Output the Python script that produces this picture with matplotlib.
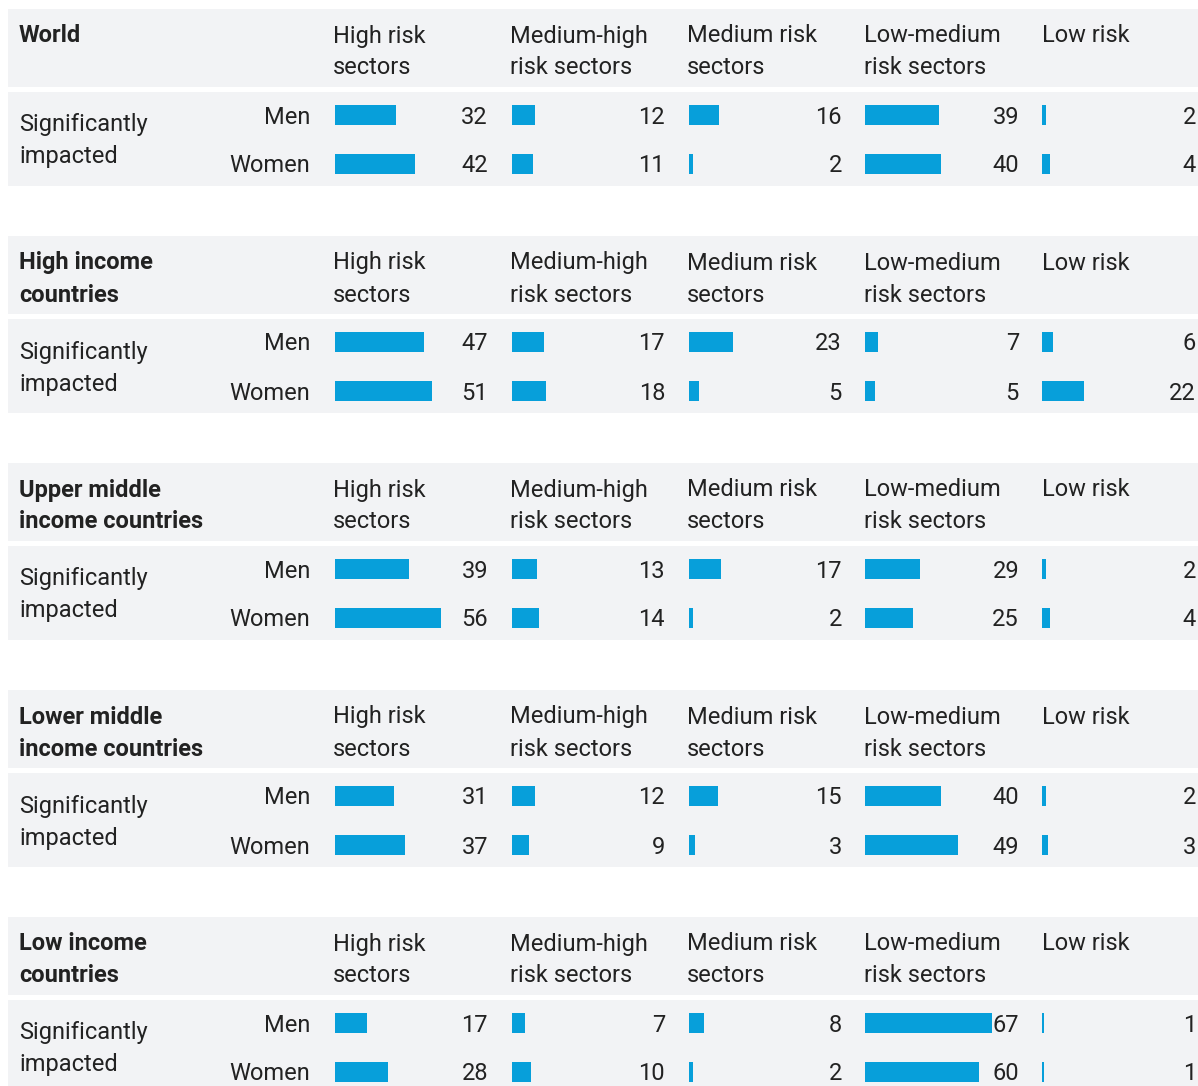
import matplotlib
matplotlib.use("Agg")
import matplotlib.pyplot as plt
from matplotlib.patches import Rectangle

plt.rcParams['font.family'] = ['Roboto', 'DejaVu Sans']

regions = ["World", "High income\ncountries", "Upper middle\nincome countries",
           "Lower middle\nincome countries", "Low income\ncountries"]
sectors = ["High risk\nsectors", "Medium-high\nrisk sectors", "Medium risk\nsectors",
           "Low-medium\nrisk sectors", "Low risk"]
row_label = "Significantly\nimpacted"
groups = ["Men", "Women"]

men = [
    [32, 12, 16, 39, 2],
    [47, 17, 23, 7, 6],
    [39, 13, 17, 29, 2],
    [31, 12, 15, 40, 2],
    [17, 7, 8, 67, 1],
]
women = [
    [42, 11, 2, 40, 4],
    [51, 18, 5, 5, 22],
    [56, 14, 2, 25, 4],
    [37, 9, 3, 49, 3],
    [28, 10, 2, 60, 1],
]

W, H = 1198, 1086
fig = plt.figure(figsize=(W / 100, H / 100), dpi=100)
ax = fig.add_axes([0, 0, 1, 1])
ax.set_xlim(0, W)
ax.set_ylim(H, 0)
ax.axis('off')

BG = '#f2f3f5'
BAR = '#079fda'
TXT = '#222222'
FS = 17

col_start = [335, 512, 689, 865, 1042]
col_num_right = [488, 665, 842, 1019, 1196]
col_head = [333, 510, 687, 864, 1042]
scale = 1.9
bar_h = 20
dy = 2

for i, reg in enumerate(regions):
    top = 9 + 227 * i
    ax.add_patch(Rectangle((8, top), W - 8, 78, color=BG, lw=0))
    ax.add_patch(Rectangle((8, top + 83), W - 8, 94, color=BG, lw=0))
    lines = reg.split("\n")
    for k, ln in enumerate(lines):
        ax.text(19, top + 25 + dy + 32 * k, ln, fontsize=FS, fontweight='bold',
                color=TXT, va='center', ha='left')
    for c, sec in enumerate(sectors):
        for k, ln in enumerate(sec.split("\n")):
            ax.text(col_head[c], top + 25 + dy + 32 * k, ln, fontsize=FS,
                    color=TXT, va='center', ha='left')
    for k, ln in enumerate(row_label.split("\n")):
        ax.text(19, top + 114 + dy + 32 * k, ln, fontsize=FS, color=TXT,
                va='center', ha='left')
    for g, (gname, vals) in enumerate(zip(groups, [men[i], women[i]])):
        yc = top + 106 + 49 * g
        ax.text(310, yc + dy, gname, fontsize=FS, color=TXT, va='center', ha='right')
        ax.barh([yc] * 5, [v * scale for v in vals], left=col_start,
                height=bar_h, color=BAR, lw=0)
        for c, v in enumerate(vals):
            ax.text(col_num_right[c], yc + dy, str(v), fontsize=FS, color=TXT,
                    va='center', ha='right')

fig.savefig("out.png", dpi=100, facecolor='white')
